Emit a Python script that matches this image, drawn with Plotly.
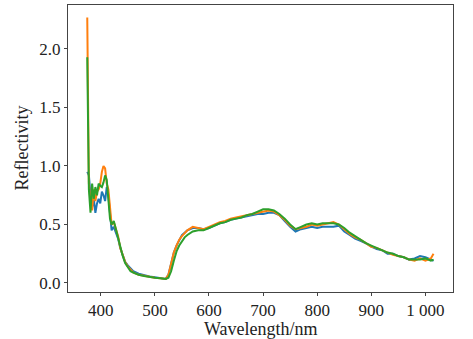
import plotly.graph_objects as go

wavelength = [375, 378, 381, 384, 387, 390, 393, 396, 399, 402, 405, 408, 411, 414, 417, 420,
              424, 428, 432, 436, 440, 445, 450, 455, 460, 470, 480, 490, 500, 510, 520, 525,
              530, 535, 540, 545, 550, 555, 560, 570, 580, 590, 600, 610, 620, 630, 640, 650,
              660, 670, 680, 690, 700, 710, 720, 730, 740, 750, 760, 770, 780, 790, 800, 810,
              820, 830, 840, 850, 860, 870, 880, 890, 900, 910, 920, 930, 940, 950, 960, 970,
              980, 990, 1000, 1010, 1015]

blue = [0.95, 0.92, 0.75, 0.65, 0.72, 0.60, 0.68, 0.72, 0.68, 0.78, 0.75, 0.70, 0.82, 0.75, 0.60, 0.45,
        0.48, 0.43, 0.38, 0.30, 0.24, 0.18, 0.15, 0.12, 0.10, 0.08, 0.065, 0.055, 0.05, 0.04, 0.035, 0.07,
        0.17, 0.26, 0.32, 0.37, 0.41, 0.43, 0.45, 0.47, 0.47, 0.46, 0.47, 0.49, 0.51, 0.52, 0.54, 0.55,
        0.56, 0.57, 0.58, 0.59, 0.59, 0.60, 0.60, 0.58, 0.53, 0.48, 0.44, 0.46, 0.47, 0.48, 0.47, 0.48,
        0.48, 0.48, 0.49, 0.44, 0.41, 0.38, 0.36, 0.34, 0.31, 0.29, 0.28, 0.25, 0.25, 0.23, 0.22, 0.20,
        0.21, 0.23, 0.22, 0.20, 0.19]

orange = [2.27, 0.85, 0.70, 0.62, 0.80, 0.70, 0.78, 0.80, 0.85, 0.95, 1.00, 0.98, 0.85, 0.80, 0.65, 0.50,
          0.52, 0.45, 0.40, 0.30, 0.25, 0.18, 0.14, 0.11, 0.09, 0.07, 0.06, 0.05, 0.045, 0.04, 0.035, 0.07,
          0.17, 0.26, 0.32, 0.37, 0.40, 0.43, 0.45, 0.48, 0.47, 0.46, 0.48, 0.50, 0.52, 0.53, 0.55, 0.56,
          0.57, 0.58, 0.59, 0.60, 0.61, 0.62, 0.61, 0.58, 0.54, 0.49, 0.46, 0.47, 0.48, 0.50, 0.49, 0.50,
          0.51, 0.52, 0.50, 0.46, 0.42, 0.39, 0.37, 0.34, 0.31, 0.30, 0.28, 0.26, 0.24, 0.23, 0.22, 0.20,
          0.19, 0.21, 0.19, 0.21, 0.25]

green = [1.93, 0.80, 0.60, 0.85, 0.72, 0.82, 0.75, 0.85, 0.83, 0.82, 0.86, 0.92, 0.88, 0.72, 0.55, 0.50,
         0.53, 0.46, 0.38, 0.30, 0.24, 0.17, 0.13, 0.10, 0.09, 0.07, 0.06, 0.05, 0.045, 0.04, 0.035, 0.045,
         0.10, 0.19, 0.27, 0.32, 0.36, 0.39, 0.41, 0.44, 0.45, 0.45, 0.47, 0.49, 0.51, 0.52, 0.54, 0.55,
         0.56, 0.58, 0.59, 0.61, 0.63, 0.63, 0.62, 0.59, 0.55, 0.50, 0.46, 0.48, 0.50, 0.51, 0.50, 0.51,
         0.51, 0.51, 0.50, 0.47, 0.43, 0.40, 0.37, 0.34, 0.32, 0.30, 0.28, 0.26, 0.25, 0.23, 0.22, 0.20,
         0.20, 0.20, 0.21, 0.19, 0.20]

x_tickvals = [400, 500, 600, 700, 800, 900, 1000]
x_ticktext = ["400", "500", "600", "700", "800", "900", "1 000"]
y_tickvals = [0.0, 0.5, 1.0, 1.5, 2.0]
y_ticktext = ["0.0", "0.5", "1.0", "1.5", "2.0"]

fig = go.Figure()
for vals, col in [(blue, "#1f77b4"), (orange, "#ff7f0e"), (green, "#2ca02c")]:
    fig.add_trace(go.Scatter(x=wavelength, y=vals, mode="lines",
                             line=dict(color=col, width=2), showlegend=False))

family = "Liberation Serif, Times New Roman, serif"
tick_font = dict(family=family, size=17, color="#222")
title_font = dict(family=family, size=18, color="#222")
axis_common = dict(showgrid=False, zeroline=False, showline=True, linecolor="#444", linewidth=1,
                   mirror=True, ticks="outside", ticklen=3, tickcolor="#444", tickfont=tick_font,
                   automargin=False)

L, R, T, B, W, H = 68, 20, 5, 47, 473, 339
plot_w, plot_h = W - L - R, H - T - B

fig.update_layout(
    width=W, height=H,
    margin=dict(l=L, r=R, t=T, b=B),
    paper_bgcolor="white", plot_bgcolor="white",
    font=tick_font,
    xaxis=dict(range=[339.4, 1051], tickvals=x_tickvals, ticktext=x_ticktext, **axis_common),
    yaxis=dict(range=[-0.077, 2.376], tickvals=y_tickvals, ticktext=y_ticktext, **axis_common),
    annotations=[
        dict(text="Wavelength/nm", xref="paper", yref="paper", x=0.5,
             y=(H - B - 329) / plot_h, xanchor="center", yanchor="middle",
             showarrow=False, font=title_font),
        dict(text="Reflectivity", xref="paper", yref="paper", x=(21 - L) / plot_w,
             y=0.5, xanchor="center", yanchor="middle", textangle=-90,
             showarrow=False, font=title_font),
    ],
)

fig.write_html("out.html")
